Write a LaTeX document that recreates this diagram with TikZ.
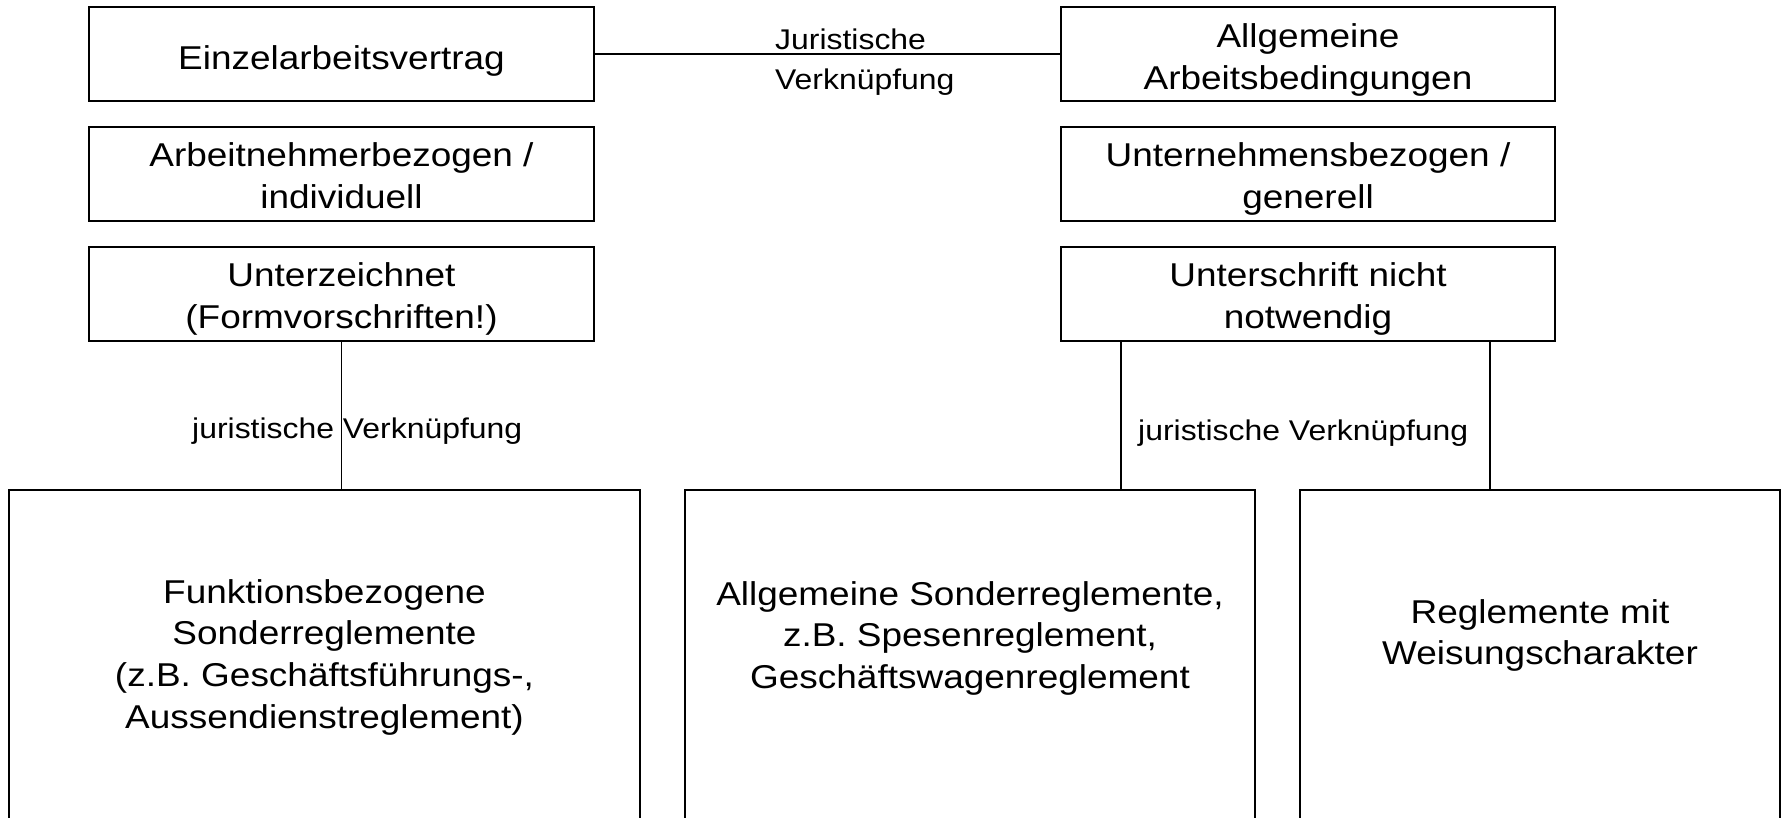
\documentclass[tikz,border=0pt]{standalone}
\usepackage{fontspec}
\setmainfont{Liberation Sans}[FakeStretch=1.12]
\newcommand\bxfont{\fontsize{33pt}{41.7pt}\selectfont}
\newcommand\lbfont{\fontsize{28.5pt}{40pt}\selectfont}
\begin{document}
\begin{tikzpicture}[x=1pt,y=-1pt,
  bx/.style={draw=black, line width=2pt, inner sep=0pt, outer sep=0pt},
  tx/.style={inner sep=0pt, align=center, font=\bxfont, anchor=north, text=black},
  lb/.style={inner sep=0pt, font=\lbfont, text=black},
  conn/.style={draw=black, line width=1.8pt}]
\useasboundingbox (0,0) rectangle (1783,817);
% boxes
\node[bx, minimum width=505pt, minimum height=94pt] (L1) at (341.5,54) {};
\node[bx, minimum width=505pt, minimum height=94pt] (L2) at (341.5,174) {};
\node[bx, minimum width=505pt, minimum height=94pt] (L3) at (341.5,294) {};
\node[bx, minimum width=494pt, minimum height=94pt] (R1) at (1308,54) {};
\node[bx, minimum width=494pt, minimum height=94pt] (R2) at (1308,174) {};
\node[bx, minimum width=494pt, minimum height=94pt] (R3) at (1308,294) {};
\node[bx, minimum width=631pt, minimum height=329pt] (A) at (324.5,654.5) {};
\node[bx, minimum width=570pt, minimum height=329pt] (B) at (970,654.5) {};
\node[bx, minimum width=480pt, minimum height=329pt] (C) at (1540,654.5) {};
% texts
\node[tx] (tL1) at (341.5,39.8) {\strut Einzelarbeitsvertrag};
\node[tx] (tL2) at (341.5,137.5) {\strut Arbeitnehmerbezogen /\\individuell};
\node[tx] (tL3) at (341.5,257.5) {\strut Unterzeichnet\\(Formvorschriften!)};
\node[tx] (tR1) at (1308,18.3) {\strut Allgemeine\\Arbeitsbedingungen};
\node[tx] (tR2) at (1308,137.5) {\strut Unternehmensbezogen /\\generell};
\node[tx] (tR3) at (1308,257.5) {\strut Unterschrift nicht\\notwendig};
\node[tx] (tA) at (324.5,573.8) {\strut Funktionsbezogene\\Sonderreglemente\\(z.B. Geschäftsführungs-,\\Aussendienstreglement)};
\node[tx] (tB) at (970,575.8) {\strut Allgemeine Sonderreglemente,\\z.B. Spesenreglement,\\Geschäftswagenreglement};
\node[tx] (tC) at (1540,593.8) {\strut Reglemente mit\\Weisungscharakter};
% connectors
\draw[conn] (L1.east) -- (R1.west);
\draw[conn] (L3.south) -- (L3.south |- A.north);
\draw[conn] ([xshift=60pt]R3.south west) -- ([xshift=60pt]R3.south west |- B.north);
\draw[conn] ([xshift=-65pt]R3.south east) -- ([xshift=-65pt]R3.south east |- C.north);
% labels
\node[lb, align=left, anchor=north west] (lTop) at (775,21) {\strut Juristische\\Verknüpfung};
\node[lb, anchor=base west] (lLeft) at (192,438) {juristische Verknüpfung};
\node[lb, anchor=base west] (lRight) at (1138,440) {juristische Verknüpfung};
\end{tikzpicture}
\end{document}
